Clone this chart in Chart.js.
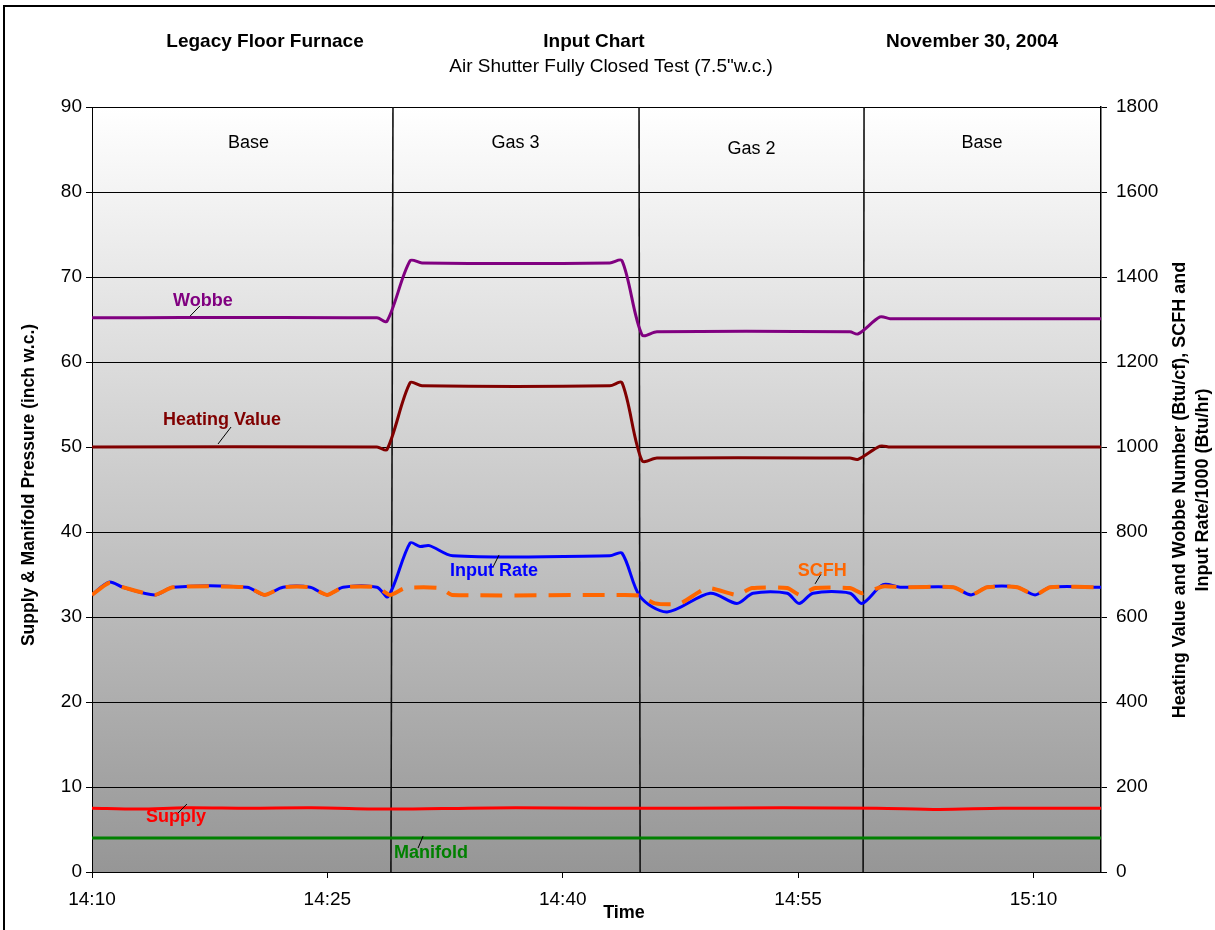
<!DOCTYPE html>
<html>
<head>
<meta charset="utf-8">
<title>Input Chart</title>
<script src="https://cdn.jsdelivr.net/npm/chart.js@4.4.0/dist/chart.umd.min.js"></script>
<style>
  html, body { margin: 0; padding: 0; background: #fff; }
  #wrap { position: relative; width: 1215px; height: 930px; }
</style>
</head>
<body>
<div id="wrap"><canvas id="myChart"></canvas></div>
<script>
// --- DATA (time = minutes after 14:10) ---
const timeTicks = [0, 15, 30, 45, 60];
const timeEnd = 64.3;

const phaseNames = ['Base', 'Gas 3', 'Gas 2', 'Base'];
const phaseBottomT = [19.05, 34.93, 49.14];
const phaseTopT = [19.18, 34.86, 49.2];

// right axis (Btu/cf, SCFH, Btu/hr /1000)
const wobbeT = [0, 18.16, 18.8, 20.27, 21.03, 33.0, 33.78, 35.05, 36.0, 48.3, 48.82, 50.22, 50.86, 64.3];
const wobbeV = [1304, 1304, 1296, 1438, 1433, 1433, 1438, 1264, 1271, 1271, 1266, 1306, 1302, 1302];

const heatT = [0, 18.16, 18.8, 20.27, 21.03, 33.0, 33.78, 35.05, 36.0, 48.3, 48.82, 50.22, 50.86, 64.3];
const heatV = [1000, 1000, 994, 1151, 1144, 1144, 1151, 968, 974, 974, 971, 1002, 1000, 1000];

const inputT = [0, 1.08, 1.98, 4.0, 5.16, 9.88, 11.0, 12.17, 13.9, 14.98, 16.0, 18.16, 18.87, 20.27, 20.9, 21.5, 23.0,
  33.0, 33.78, 34.93, 36.65, 39.39, 41.1, 42.13, 44.3, 45.06, 45.95, 48.3, 49.08, 50.41, 51.5,
  54.88, 56.02, 57.04, 58.95, 60.1, 61.06, 64.3];
const inputV = [652, 682, 670, 652, 670, 670, 652, 670, 670, 652, 670, 670, 648, 774, 766, 768, 744,
  744, 750, 648, 612, 656, 632, 656, 656, 632, 656, 656, 632, 676, 670,
  670, 652, 670, 670, 652, 670, 670];

const scfhT = [0, 1.08, 1.98, 4.0, 5.16, 9.88, 11.0, 12.17, 13.9, 14.98, 16.0, 18.16, 18.99, 19.95, 22.18, 22.94,
  33.97, 34.93, 35.88, 37.48, 39.2, 41.1, 42.07, 44.3, 45.12, 46.08, 48.3, 49.08, 50.41, 51.5,
  54.88, 56.02, 57.04, 58.95, 60.1, 61.06, 64.3];
const scfhV = [652, 680, 670, 652, 670, 670, 652, 670, 670, 652, 670, 670, 652, 668, 668, 652,
  652, 650, 632, 632, 668, 652, 668, 668, 652, 668, 668, 656, 672, 670,
  670, 652, 670, 670, 652, 670, 670];

// left axis (inch w.c.)
const supplyT = [0, 3, 6, 10, 14, 19, 24, 27, 32, 38, 44, 50, 54, 58, 64.3];
const supplyV = [7.5, 7.4, 7.55, 7.5, 7.55, 7.4, 7.5, 7.55, 7.5, 7.5, 7.55, 7.5, 7.35, 7.5, 7.5];

const manifoldT = [0, 64.3];
const manifoldV = [4.0, 4.0];

const FONT = "Arial, 'Liberation Sans', sans-serif";

function pts(ts, vs) {
  return ts.map((t, i) => ({ x: t, y: vs[i] }));
}

function fmtTime(v) {
  const m = 10 + Math.round(v);
  const h = 14 + Math.floor(m / 60);
  const mm = m % 60;
  return h + ':' + (mm < 10 ? '0' : '') + mm;
}

function txt(ctx, s, x, y, font, color) {
  ctx.font = font;
  ctx.fillStyle = color;
  ctx.textAlign = 'center';
  ctx.textBaseline = 'middle';
  ctx.fillText(s, x, y);
}

// --- PLUGIN : fond dégradé + textes ---
const decor = {
  id: 'decor',
  beforeDraw(chart) {
    const { ctx, chartArea: a } = chart;
    const g = ctx.createLinearGradient(0, a.top, 0, a.bottom);
    g.addColorStop(0, '#ffffff');
    g.addColorStop(1, '#969696');
    ctx.save();
    ctx.fillStyle = g;
    ctx.fillRect(a.left, a.top, a.right - a.left, a.bottom - a.top);
    ctx.restore();
  },
  afterDraw(chart) {
    const { ctx, chartArea: a } = chart;
    const sx = chart.scales.x, sy = chart.scales.y;
    ctx.save();

    // titles
    txt(ctx, 'Legacy Floor Furnace', 265, 42, 'bold 19px ' + FONT, '#000');
    txt(ctx, 'Input Chart', 594, 42, 'bold 19px ' + FONT, '#000');
    txt(ctx, 'November 30, 2004', 972, 42, 'bold 19px ' + FONT, '#000');
    txt(ctx, 'Air Shutter Fully Closed Test (7.5"w.c.)', 611, 67, '19px ' + FONT, '#000');
    txt(ctx, 'Time', 624, 913, 'bold 18px ' + FONT, '#000');

    // axis titles
    ctx.save();
    ctx.translate(29, 485);
    ctx.rotate(-Math.PI / 2);
    txt(ctx, 'Supply & Manifold Pressure (inch w.c.)', 0, 0, 'bold 17.5px ' + FONT, '#000');
    ctx.restore();
    ctx.save();
    ctx.translate(1180, 490);
    ctx.rotate(-Math.PI / 2);
    txt(ctx, 'Heating Value and Wobbe Number (Btu/cf), SCFH and', 0, 0, 'bold 18px ' + FONT, '#000');
    ctx.restore();
    ctx.save();
    ctx.translate(1203, 490);
    ctx.rotate(-Math.PI / 2);
    txt(ctx, 'Input Rate/1000 (Btu/hr)', 0, 0, 'bold 18px ' + FONT, '#000');
    ctx.restore();

    // phase names, centred in each phase
    const bounds = [0, ...phaseBottomT, timeEnd];
    phaseNames.forEach((n, i) => {
      const xm = sx.getPixelForValue((bounds[i] + bounds[i + 1]) / 2);
      txt(ctx, n, xm + (i === 0 ? 7 : 0), a.top + (n === 'Gas 2' ? 42 : 36), '18px ' + FONT, '#000');
    });

    // series labels with small leader lines (time, left-axis value)
    const labels = [
      { s: 'Wobbe', c: '#800080', t: 7.07, v: 67.2, l: [6.25, 65.4, 6.88, 66.6] },
      { s: 'Heating Value', c: '#800000', t: 8.29, v: 53.2, l: [8.03, 50.35, 8.86, 52.35] },
      { s: 'Input Rate', c: '#0000ff', t: 25.62, v: 35.4, l: [25.56, 35.9, 25.94, 37.3] },
      { s: 'SCFH', c: '#ff6600', t: 46.53, v: 35.4, l: [46.08, 33.9, 46.46, 35.06] },
      { s: 'Supply', c: '#ff0000', t: 5.35, v: 6.47, l: [5.48, 6.94, 6.05, 8.0] },
      { s: 'Manifold', c: '#008000', t: 21.6, v: 2.24, l: [20.78, 2.82, 21.1, 4.24] }
    ];
    labels.forEach(o => {
      ctx.beginPath();
      ctx.strokeStyle = '#000';
      ctx.lineWidth = 1;
      ctx.moveTo(sx.getPixelForValue(o.l[0]), sy.getPixelForValue(o.l[1]));
      ctx.lineTo(sx.getPixelForValue(o.l[2]), sy.getPixelForValue(o.l[3]));
      ctx.stroke();
      txt(ctx, o.s, sx.getPixelForValue(o.t), sy.getPixelForValue(o.v), 'bold 18px ' + FONT, o.c);
    });

    // cadre extérieur
    ctx.strokeStyle = '#000';
    ctx.lineWidth = 2;
    ctx.beginPath();
    ctx.moveTo(4, 940);
    ctx.lineTo(4, 6);
    ctx.lineTo(1220, 6);
    ctx.stroke();
    ctx.restore();
  }
};

// --- DATASETS ---
const line = (label, data, color, axis, extra) => Object.assign({
  label: label,
  data: data,
  yAxisID: axis,
  borderColor: color,
  borderWidth: 3,
  pointRadius: 0,
  tension: 0.3,
  fill: false
}, extra || {});

const datasets = [
  line('SCFH', pts(scfhT, scfhV), '#ff6600', 'y2', { borderWidth: 4, borderDash: [22, 12], tension: 0.2 }),
  line('Input Rate', pts(inputT, inputV), '#0000ff', 'y2'),
  line('Wobbe', pts(wobbeT, wobbeV), '#800080', 'y2'),
  line('Heating Value', pts(heatT, heatV), '#800000', 'y2'),
  line('Supply', pts(supplyT, supplyV), '#ff0000', 'y'),
  line('Manifold', pts(manifoldT, manifoldV), '#008000', 'y')
];
phaseBottomT.forEach((b, i) => {
  datasets.push(line('phase' + i, [{ x: b, y: 0 }, { x: phaseTopT[i], y: 90 }], '#111', 'y',
    { borderWidth: 1.6, tension: 0, order: 10 }));
});

Chart.defaults.font.family = FONT;
Chart.defaults.color = '#000';

new Chart(document.getElementById('myChart'), {
  type: 'line',
  data: { datasets: datasets },
  plugins: [decor],
  options: {
    responsive: true,
    maintainAspectRatio: false,
    animation: false,
    layout: { padding: { top: 107, left: 0, right: 0, bottom: 0 } },
    plugins: { legend: { display: false }, tooltip: { enabled: false } },
    scales: {
      x: {
        type: 'linear',
        min: 0,
        max: timeEnd,
        afterBuildTicks: s => { s.ticks = timeTicks.map(v => ({ value: v })); },
        afterFit: s => { s.height = 58; },
        ticks: { callback: v => fmtTime(v), font: { size: 19 }, padding: 10, maxRotation: 0 },
        grid: { drawOnChartArea: false, tickLength: 6, color: '#000' },
        border: { color: '#000', width: 1 }
      },
      y: {
        position: 'left',
        min: 0,
        max: 90,
        afterFit: s => { s.width = 92; },
        ticks: { stepSize: 10, font: { size: 19 }, padding: 4 },
        grid: { color: '#000', lineWidth: 1, tickLength: 6 },
        border: { color: '#000', width: 1 }
      },
      y2: {
        position: 'right',
        min: 0,
        max: 1800,
        afterFit: s => { s.width = 114; },
        ticks: { stepSize: 200, font: { size: 19 }, padding: 9, callback: v => String(v) },
        grid: { drawOnChartArea: false, tickLength: 6, color: '#000' },
        border: { color: '#000', width: 1.5 }
      }
    }
  }
});
</script>
</body>
</html>
